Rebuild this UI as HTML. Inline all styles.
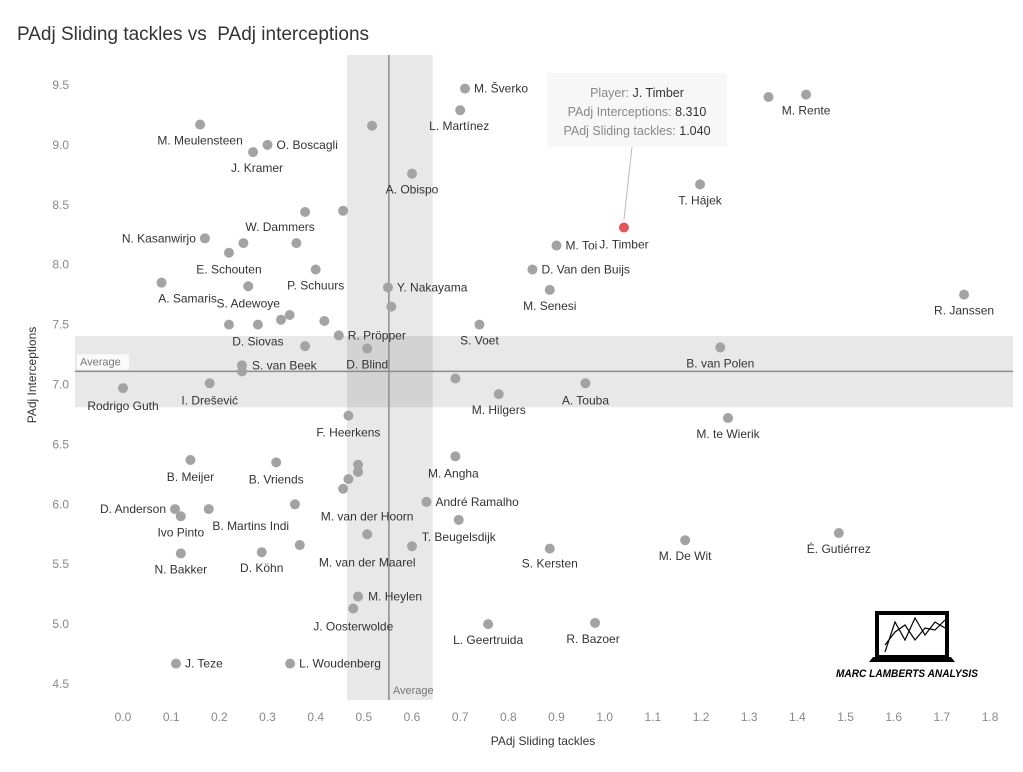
<!DOCTYPE html>
<html><head><meta charset="utf-8">
<style>
body{margin:0;background:#fff;font-family:"Liberation Sans",sans-serif;}
svg text{font-family:"Liberation Sans",sans-serif;}
</style></head>
<body>
<svg id="chart" width="1023" height="767" viewBox="0 0 1023 767" xmlns="http://www.w3.org/2000/svg">
<text x="17" y="40" font-size="19" fill="#333">PAdj Sliding tackles vs&#160; PAdj interceptions</text>
<g id="bands"></g>
<g id="axes"></g>
<g id="points"></g>
<g id="tooltip"></g>
<g>
  <rect x="877" y="613" width="70" height="44" fill="none" stroke="#000" stroke-width="4"/>
  <polyline points="885,652 895,622 905,640 915,618 925,635 935,622 945,628" fill="none" stroke="#000" stroke-width="1.2"/>
  <polyline points="885,645 895,632 905,625 915,640 925,628 935,630 945,620" fill="none" stroke="#000" stroke-width="1.2"/>
  <polygon points="873,657 951,657 955,662 869,662" fill="#000"/>
  <text x="907" y="677" font-size="11" font-weight="bold" font-style="italic" text-anchor="middle" fill="#000" textLength="142" lengthAdjust="spacingAndGlyphs">MARC LAMBERTS ANALYSIS</text>
</g>
</svg>
<script>
const names=["M. Šverko","L. Martínez","M. Rente","","M. Meulensteen","","O. Boscagli","J. Kramer","A. Obispo","T. Hájek","W. Dammers","","J. Timber","N. Kasanwirjo","","","E. Schouten","M. Toi","P. Schuurs","D. Van den Buijs","A. Samaris","S. Adewoye","Y. Nakayama","M. Senesi","R. Janssen","","","","","","D. Siovas","S. Voet","R. Pröpper","","B. van Polen","D. Blind","S. van Beek","","","M. Hilgers","A. Touba","I. Drešević","Rodrigo Guth","M. te Wierik","F. Heerkens","M. Angha","B. Meijer","B. Vriends","","","","M. van der Hoorn","André Ramalho","","D. Anderson","B. Martins Indi","Ivo Pinto","T. Beugelsdijk","M. van der Maarel","É. Gutiérrez","M. De Wit","","","S. Kersten","D. Köhn","N. Bakker","M. Heylen","J. Oosterwolde","L. Geertruida","R. Bazoer","J. Teze","L. Woudenberg"];
const tackles=[0.71,0.70,1.418,1.34,0.16,0.517,0.30,0.27,0.60,1.198,0.378,0.457,1.04,0.17,0.25,0.36,0.22,0.90,0.40,0.85,0.08,0.26,0.55,0.886,1.746,0.557,0.346,0.328,0.418,0.22,0.28,0.74,0.448,0.378,1.24,0.507,0.247,0.247,0.69,0.78,0.96,0.18,0.0,1.256,0.468,0.69,0.14,0.318,0.488,0.488,0.468,0.457,0.63,0.357,0.108,0.178,0.12,0.697,0.507,1.486,1.167,0.60,0.367,0.886,0.288,0.12,0.488,0.478,0.758,0.98,0.11,0.347];
const interceptions=[9.47,9.29,9.42,9.40,9.17,9.16,9.0,8.94,8.76,8.67,8.44,8.45,8.31,8.22,8.18,8.18,8.10,8.16,7.96,7.96,7.85,7.82,7.81,7.79,7.75,7.65,7.58,7.54,7.53,7.50,7.50,7.50,7.41,7.32,7.31,7.30,7.16,7.11,7.05,6.92,7.01,7.01,6.97,6.72,6.74,6.40,6.37,6.35,6.33,6.27,6.21,6.13,6.02,6.0,5.96,5.96,5.90,5.87,5.75,5.76,5.70,5.65,5.66,5.63,5.60,5.59,5.23,5.13,5.0,5.01,4.67,4.67];
const labelDx=[9,-1,0,0,0,0,9,4,0,0,-25,0,0,-9,0,0,0,9,0,9,26,0,9,0,0,0,0,0,0,0,0,0,9,0,0,0,10,0,0,0,0,0,0,0,0,-2,0,0,0,0,0,24,9,0,-9,42,0,0,0,0,0,0,0,0,0,0,10,0,0,-2,9,9];
const labelDy=[4,20,20,0,20,0,4,20,20,20,19,0,21,4,0,0,21,4,20,4,20,21,4,20,20,0,0,0,0,0,21,20,4,0,20,20,4,0,0,20,21,21,22,20,21,21,21,21,0,0,0,32,4,0,4,21,20,21,32,20,20,0,0,19,20,20,4,22,20,20,4,4];
const labelAnchor=["start","middle","middle","middle","middle","middle","start","middle","middle","middle","middle","middle","middle","end","middle","middle","middle","start","middle","start","middle","middle","start","middle","middle","middle","middle","middle","middle","middle","middle","middle","start","middle","middle","middle","start","middle","middle","middle","middle","middle","middle","middle","middle","middle","middle","middle","middle","middle","middle","middle","start","middle","end","middle","middle","middle","middle","middle","middle","middle","middle","middle","middle","middle","start","middle","middle","middle","start","start"];
const xTicks=["0.0","0.1","0.2","0.3","0.4","0.5","0.6","0.7","0.8","0.9","1.0","1.1","1.2","1.3","1.4","1.5","1.6","1.7","1.8"];
const yTicks=["4.5","5.0","5.5","6.0","6.5","7.0","7.5","8.0","8.5","9.0","9.5"];
const avgX=[0.552], bandX=[0.465,0.643], avgY=[7.11], bandY=[6.81,7.405];
const highlight="J. Timber";

const NS="http://www.w3.org/2000/svg";
const X=v=>123+v*481.7, Y=v=>85+(9.5-v)*119.8;
function mk(tag,attrs,parent){const e=document.createElementNS(NS,tag);for(const k in attrs)e.setAttribute(k,attrs[k]);parent.appendChild(e);return e;}
const bands=document.getElementById('bands'),axes=document.getElementById('axes'),pts=document.getElementById('points');
let r=mk('rect',{x:X(bandX[0]),y:55,width:X(bandX[1])-X(bandX[0]),height:645,fill:'#000','fill-opacity':0.09},bands);


r=mk('rect',{x:75,y:Y(bandY[1]),width:938,height:Y(bandY[0])-Y(bandY[1]),fill:'#000','fill-opacity':0.09},bands);


let l=mk('line',{x1:X(avgX[0]),x2:X(avgX[0]),y1:55,y2:700,stroke:'#8c8c8c','stroke-width':1.5},bands);


l=mk('line',{x1:75,x2:1013,y1:Y(avgY[0]),y2:Y(avgY[0]),stroke:'#8c8c8c','stroke-width':1.5},bands);


let bg=mk('rect',{x:77,y:Y(avgY[0])-17,width:52,height:15,fill:'#fff',opacity:0.8},bands);


let t=mk('text',{x:80,y:Y(avgY[0])-6,'font-size':11,fill:'#777'},bands);t.textContent='Average';


t=mk('text',{x:X(avgX[0])+4,y:694,'font-size':11,fill:'#777'},bands);t.textContent='Average';


xTicks.forEach(s=>{const e=mk('text',{x:X(parseFloat(s)),y:721,'font-size':12,fill:'#888','text-anchor':'middle'},axes);e.textContent=s;

});
yTicks.forEach(s=>{const e=mk('text',{x:69,y:Y(parseFloat(s))+4,'font-size':12,fill:'#888','text-anchor':'end'},axes);e.textContent=s;

});
t=mk('text',{x:543,y:745,'font-size':12,fill:'#333','text-anchor':'middle'},axes);t.textContent='PAdj Sliding tackles';


t=mk('text',{x:0,y:0,'font-size':12,fill:'#333','text-anchor':'middle',transform:'translate(36,375) rotate(-90)'},axes);t.textContent='PAdj Interceptions';


let hi=-1;
tackles.forEach((v,i)=>{const cx=X(v),cy=Y(interceptions[i]);const isH=names[i]===highlight;if(isH)hi=i;
const c=mk('circle',{cx:cx,cy:cy,r:5,fill:isH?'#e15759':'#a3a3a3'},pts);


if(names[i]){const e=mk('text',{x:cx+labelDx[i],y:cy+labelDy[i],'font-size':12,fill:'#333','text-anchor':labelAnchor[i]},pts);e.textContent=names[i];

}});
if(hi>=0){const tg=document.getElementById('tooltip');const px=X(tackles[hi]),py=Y(interceptions[hi]);
mk('line',{x1:632,y1:147,x2:px,y2:py-8,stroke:'#bbb','stroke-width':1},tg);
mk('rect',{x:547,y:73,width:180,height:74,fill:'#f7f7f7'},tg);
const lines=[["Player: ",names[hi]],["PAdj Interceptions: ",interceptions[hi].toFixed(3)],["PAdj Sliding tackles: ",tackles[hi].toFixed(3)]];
lines.forEach((ln,k)=>{const e=mk('text',{x:637,y:97+k*19,'font-size':12.5,fill:'#888','text-anchor':'middle'},tg);


const a=mk('tspan',{},e);a.textContent=ln[0];const b=mk('tspan',{fill:'#333'},e);b.textContent=ln[1];});}
</script>
</body></html>
